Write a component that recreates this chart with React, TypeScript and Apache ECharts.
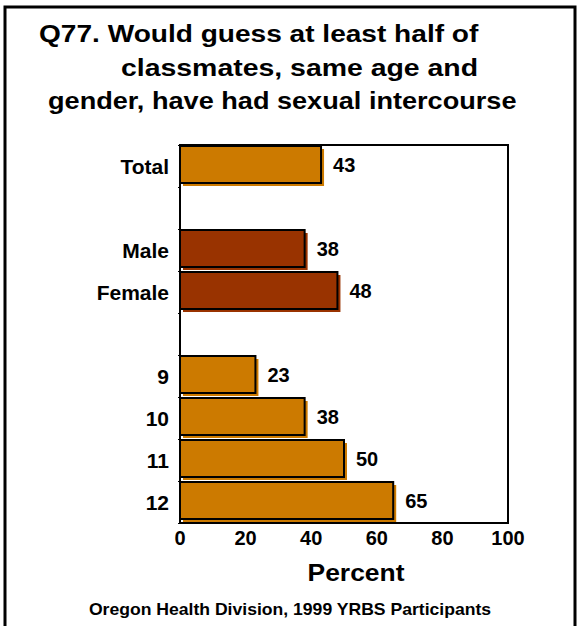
import React, { useEffect, useRef } from "react";
import * as echarts from "echarts";

const categories = ["Total", "", "Male", "Female", "", "9", "10", "11", "12"];
const values: (number | null)[] = [43, null, 38, 48, null, 23, 38, 50, 65];
const barColors = ["#CC7A00", "", "#993300", "#993300", "", "#CC7A00", "#CC7A00", "#CC7A00", "#CC7A00"];
const xTicks = [0, 20, 40, 60, 80, 100];
const titleLines = [
  "Q77. Would guess at least half of",
  "classmates, same age and",
  "gender, have had sexual intercourse",
];
const xAxisTitle = "Percent";
const footer = "Oregon Health Division, 1999 YRBS Participants";

const FONT = "'Liberation Sans', Arial, Helvetica, sans-serif";

export default function App() {
  const ref = useRef<HTMLDivElement>(null);
  useEffect(() => {
    if (!ref.current) return;
    const chart = echarts.init(ref.current, undefined, { renderer: "svg" });
    const data = values
      .map((v, i) => (v == null ? null : [v, i]))
      .filter((d) => d != null);
    const titleText = (text: string, x: number, y: number, sx: number) => ({
      type: "text",
      x,
      y,
      scaleX: sx,
      style: {
        text,
        fill: "#000",
        font: `bold 24px ${FONT}`,
        align: "left",
        verticalAlign: "middle",
      },
    });
    chart.setOption({
      animation: false,
      backgroundColor: "#ffffff",
      grid: {
        left: 180,
        right: 71,
        top: 145,
        bottom: 103,
        show: true,
        borderColor: "#000",
        borderWidth: 2,
        backgroundColor: "transparent",
      },
      xAxis: {
        type: "value",
        min: xTicks[0],
        max: xTicks[xTicks.length - 1],
        interval: 20,
        splitLine: { show: false },
        axisLine: { show: true, lineStyle: { color: "#000", width: 2 } },
        axisTick: { show: false },
        axisLabel: {
          color: "#000",
          fontFamily: FONT,
          fontWeight: "bold",
          fontSize: 20,
          margin: 5,
        },
      },
      yAxis: {
        type: "category",
        data: categories,
        inverse: true,
        axisLine: { show: true, lineStyle: { color: "#000", width: 2 } },
        axisTick: { show: true, length: 2, lineStyle: { color: "#000" } },
        axisLabel: {
          color: "#000",
          fontFamily: FONT,
          fontWeight: "bold",
          fontSize: 21,
          margin: 11,
        },
      },
      series: [
        {
          type: "custom",
          data: data,
          encode: { x: 0, y: 1 },
          renderItem: (params: any, api: any) => {
            const v = api.value(0);
            const idx = api.value(1);
            const start = api.coord([0, idx]);
            const end = api.coord([v, idx]);
            const band = api.size([0, 1])[1];
            const h = band - 5;
            const y0 = start[1] - band / 2 + 1;
            const x0 = start[0];
            const w = end[0] - x0;
            const color = barColors[idx];
            return {
              type: "group",
              children: [
                {
                  type: "rect",
                  shape: { x: x0 + 3, y: y0 + 3, width: w, height: h },
                  style: { fill: color },
                },
                {
                  type: "rect",
                  shape: { x: x0, y: y0, width: w, height: h },
                  style: { fill: color, stroke: "#000", lineWidth: 2 },
                },
                {
                  type: "text",
                  x: end[0] + 12,
                  y: y0 + h / 2,
                  style: {
                    text: String(v),
                    fill: "#000",
                    font: `bold 20px ${FONT}`,
                    align: "left",
                    verticalAlign: "middle",
                  },
                },
              ],
            };
          },
        },
      ],
      graphic: [
        {
          type: "rect",
          shape: { x: 5, y: 7, width: 570, height: 640 },
          style: { fill: "none", stroke: "#000", lineWidth: 3 },
          silent: true,
        },
        titleText(titleLines[0], 39, 34, 1.17),
        titleText(titleLines[1], 121, 68, 1.185),
        titleText(titleLines[2], 48, 101, 1.13),
        {
          type: "text",
          x: 356,
          y: 573,
          scaleX: 1.15,
          style: {
            text: xAxisTitle,
            fill: "#000",
            font: `bold 23px ${FONT}`,
            align: "center",
            verticalAlign: "middle",
          },
        },
        {
          type: "text",
          x: 290,
          y: 610,
          scaleX: 1.1,
          style: {
            text: footer,
            fill: "#000",
            font: `bold 16px ${FONT}`,
            align: "center",
            verticalAlign: "middle",
          },
        },
      ],
    });
    return () => chart.dispose();
  }, []);
  return (
    <div
      ref={ref}
      style={{ position: "fixed", left: 0, top: 0, width: 579, height: 626 }}
    />
  );
}
